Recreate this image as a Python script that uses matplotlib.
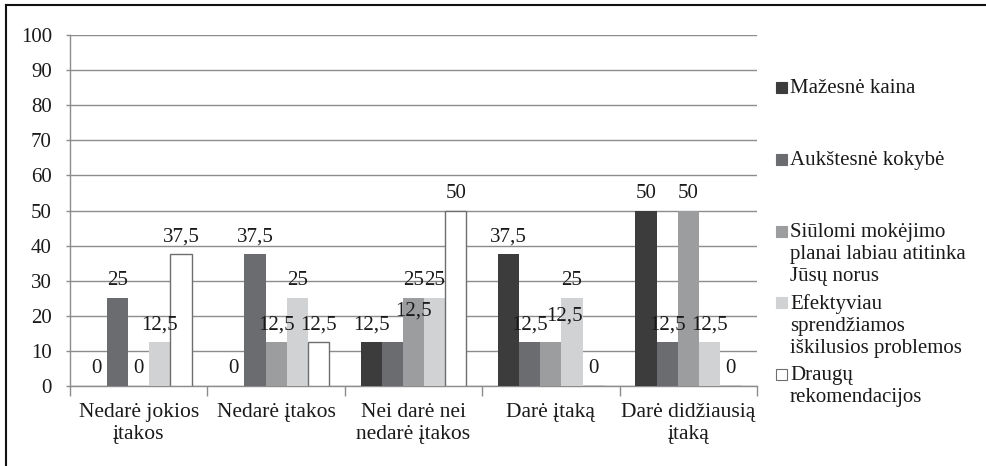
import numpy as np
import matplotlib
matplotlib.use("Agg")
import matplotlib.pyplot as plt
from matplotlib.lines import Line2D
from matplotlib.patches import Rectangle

plt.rcParams['font.family'] = ['Liberation Serif', 'DejaVu Serif']

categories = ["Nedarė jokios\nįtakos", "Nedarė įtakos", "Nei darė nei\nnedarė įtakos",
              "Darė įtaką", "Darė didžiausią\nįtaką"]
series_names = ["Mažesnė kaina", "Aukštesnė kokybė",
                "Siūlomi mokėjimo\nplanai labiau atitinka\nJūsų norus",
                "Efektyviau\nsprendžiamos\niškilusios problemos",
                "Draugų\nrekomendacijos"]
mazesne_kaina = [0, 0, 12.5, 37.5, 50]
aukstesne_kokybe = [25, 37.5, 12.5, 12.5, 12.5]
mokejimo_planai = [0, 12.5, 25, 12.5, 50]
efektyviau = [12.5, 25, 25, 25, 12.5]
draugu_rekomendacijos = [37.5, 12.5, 50, 0, 0]
y_ticks = [0, 10, 20, 30, 40, 50, 60, 70, 80, 90, 100]

series = [mazesne_kaina, aukstesne_kokybe, mokejimo_planai, efektyviau, draugu_rekomendacijos]
colors = ["#3c3c3c", "#6b6c6f", "#9c9d9f", "#d1d2d4", "#ffffff"]
edges = ["none", "none", "none", "none", "#6e6e6e"]

# labels that overlap their neighbours are pushed aside (group, series) -> (dx, dy) in points
label_nudge = {(2, 1): (15, 10), (3, 2): (10, 6.5)}

FS = 15
W, H = 987, 466
fig = plt.figure(figsize=(W / 100, H / 100), dpi=100)
ax = fig.add_axes([70 / W, 1 - 386 / H, (757 - 70) / W, (386 - 35) / H])

n = len(series)
bw = 1 / (n + 1.5)
x = np.arange(len(categories))
grid_c = "#8c8c8c"

for i, (vals, c, ec) in enumerate(zip(series, colors, edges)):
    xs = x + (i - (n - 1) / 2) * bw
    ax.bar(xs, vals, width=bw, color=c, edgecolor=ec, linewidth=1.0 if ec != "none" else 0, zorder=3)
    for g, (xx, v) in enumerate(zip(xs, vals)):
        dx, dy = label_nudge.get((g, i), (0, 0))
        ax.annotate(f"{v:g}".replace(".", ","), (xx, v), xytext=(dx, 12.6 + dy),
                    textcoords="offset points", ha="center", va="center",
                    fontsize=FS, color="#1a1a1a", zorder=5)

ax.set_xlim(-0.5, len(categories) - 0.5)
ax.set_ylim(0, 100)
ax.set_yticks(y_ticks)
ax.set_yticklabels([str(t) for t in y_ticks])
ax.set_xticks(x)
ax.set_xticklabels(categories, linespacing=1.25)
ax.set_xticks(np.arange(len(categories) + 1) - 0.5, minor=True)
ax.tick_params(axis="x", which="major", length=0, pad=12, labelsize=15.5, colors="#1a1a1a")
ax.tick_params(axis="x", which="minor", length=7, width=1, color=grid_c)
ax.tick_params(axis="y", length=3, width=1, color=grid_c, pad=10, labelsize=FS, labelcolor="#1a1a1a")
ax.yaxis.grid(True, color=grid_c, linewidth=1.0, zorder=0)
ax.set_axisbelow(True)
for s in ["top", "right"]:
    ax.spines[s].set_visible(False)
for s in ["left", "bottom"]:
    ax.spines[s].set_color(grid_c)
    ax.spines[s].set_linewidth(1.0)

# legend drawn as keys beside the plot area
leg_tops = [88, 160, 232, 303, 375]
for name, c, ec, yy in zip(series_names, colors, edges, leg_tops):
    fig.patches.append(Rectangle((776 / W, 1 - (yy + 5) / H), 11 / W, 11 / H,
                                 transform=fig.transFigure, facecolor=c,
                                 edgecolor=ec if ec != "none" else c, linewidth=0.8))
    fig.text(790 / W, 1 - (yy - 9) / H, name, ha="left", va="top",
             fontsize=FS, color="#1a1a1a", linespacing=1.23)

# frame around the chart
fig.add_artist(Line2D([6 / W, 986 / W], [1 - 5 / H, 1 - 5 / H], color="#111111", linewidth=1.5))
fig.add_artist(Line2D([6 / W, 6 / W], [1 - 5 / H, 0], color="#111111", linewidth=1.5))

fig.savefig("out.png", dpi=100)
